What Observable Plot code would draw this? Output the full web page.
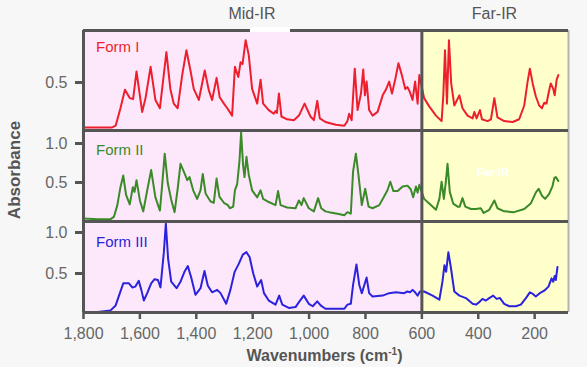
<!DOCTYPE html>
<html><head><meta charset="utf-8">
<script src="https://cdn.jsdelivr.net/npm/d3@7"></script>
<script src="https://cdn.jsdelivr.net/npm/@observablehq/plot@0.6"></script>
<style>
html,body{margin:0;padding:0;background:#f7f7f7;}
#chart{position:relative;width:587px;height:367px;overflow:hidden;font-family:"Liberation Sans",Arial,sans-serif;background:#f7f7f7;}
#chart svg{position:absolute;left:0;}
.lbl{position:absolute;white-space:nowrap;line-height:1;}
</style></head><body><div id="chart"></div>
<script>
// ---- data ----
const regionNames = ["Mid-IR", "Far-IR"];
const regionStart = [1800, 600];
const regionEnd = [600, 80];
const regionFill = ["#fde8fb", "#ffffcc"];
const xTicks = [1800, 1600, 1400, 1200, 1000, 800, 600, 400, 200];
const formNames = ["Form I", "Form II", "Form III"];
const formColors = ["#ee1f2d", "#3a8a28", "#2b22dd"];
const yTicksForm1 = [0.5];
const yTicksForm2 = [0.5, 1.0];
const yTicksForm3 = [0.5, 1.0];

// [wavenumber (cm-1), absorbance]
const form1 = [[1800,0.01],[1750,0.01],[1700,0.01],[1686,0.03],[1669,0.22],[1653,0.42],[1636,0.33],[1624,0.32],[1612,0.62],[1592,0.18],[1580,0.33],[1562,0.67],[1545,0.31],[1529,0.22],[1517,0.54],[1506,0.83],[1492,0.43],[1480,0.27],[1466,0.22],[1450,0.58],[1435,0.85],[1420,0.62],[1409,0.43],[1391,0.31],[1370,0.63],[1356,0.42],[1344,0.31],[1328,0.55],[1317,0.34],[1302,0.27],[1290,0.22],[1273,0.14],[1263,0.67],[1251,0.56],[1243,0.72],[1236,0.70],[1225,0.96],[1214,0.80],[1202,0.43],[1184,0.27],[1172,0.53],[1163,0.27],[1143,0.20],[1125,0.16],[1119,0.19],[1114,0.17],[1107,0.38],[1098,0.13],[1078,0.10],[1054,0.09],[1036,0.14],[1016,0.27],[995,0.13],[983,0.09],[971,0.30],[962,0.11],[942,0.07],[929,0.06],[905,0.04],[875,0.03],[864,0.08],[858,0.16],[849,0.09],[838,0.65],[828,0.20],[816,0.38],[808,0.64],[802,0.36],[796,0.51],[787,0.20],[775,0.14],[757,0.18],[739,0.36],[728,0.42],[716,0.51],[706,0.38],[694,0.54],[683,0.71],[671,0.58],[659,0.43],[651,0.45],[643,0.40],[633,0.31],[624,0.51],[615,0.27],[609,0.58],[592,0.33],[574,0.24],[550,0.14],[530,0.08],[524,0.36],[518,0.85],[511,0.27],[504,0.96],[496,0.49],[485,0.25],[467,0.36],[456,0.22],[438,0.14],[420,0.11],[414,0.18],[406,0.11],[394,0.20],[387,0.10],[367,0.08],[355,0.10],[343,0.33],[332,0.12],[308,0.08],[278,0.07],[255,0.10],[237,0.25],[225,0.51],[217,0.65],[207,0.49],[196,0.35],[184,0.25],[174,0.22],[166,0.28],[158,0.27],[151,0.38],[143,0.49],[134,0.43],[129,0.36],[122,0.53],[116,0.58]];

const form2 = [[1800,0.04],[1750,0.03],[1704,0.03],[1692,0.06],[1680,0.21],[1669,0.44],[1659,0.59],[1649,0.34],[1636,0.22],[1625,0.44],[1619,0.38],[1612,0.53],[1600,0.27],[1588,0.13],[1574,0.40],[1560,0.66],[1545,0.31],[1529,0.14],[1521,0.47],[1512,0.87],[1501,0.49],[1489,0.28],[1477,0.12],[1466,0.42],[1456,0.74],[1442,0.62],[1432,0.53],[1424,0.57],[1411,0.40],[1397,0.29],[1385,0.40],[1377,0.61],[1367,0.36],[1350,0.26],[1338,0.24],[1328,0.55],[1318,0.32],[1302,0.24],[1288,0.21],[1281,0.17],[1269,0.19],[1263,0.40],[1255,0.48],[1247,0.77],[1241,1.14],[1234,0.72],[1229,0.57],[1222,0.83],[1214,0.60],[1202,0.40],[1184,0.31],[1172,0.40],[1163,0.29],[1143,0.25],[1119,0.21],[1110,0.39],[1101,0.21],[1078,0.18],[1048,0.17],[1036,0.27],[1027,0.21],[1019,0.30],[1001,0.17],[983,0.13],[968,0.30],[957,0.17],[942,0.13],[929,0.12],[899,0.10],[875,0.08],[864,0.12],[852,0.10],[844,0.64],[834,0.87],[825,0.60],[813,0.21],[801,0.42],[789,0.19],[775,0.17],[751,0.21],[734,0.32],[722,0.40],[712,0.51],[701,0.39],[686,0.39],[668,0.45],[651,0.46],[639,0.41],[631,0.31],[621,0.45],[615,0.37],[609,0.47],[592,0.29],[574,0.23],[550,0.15],[538,0.29],[530,0.51],[522,0.29],[515,0.51],[509,0.74],[501,0.38],[489,0.23],[473,0.19],[466,0.19],[456,0.30],[446,0.19],[426,0.16],[408,0.16],[391,0.17],[381,0.11],[361,0.15],[343,0.27],[332,0.17],[308,0.13],[273,0.12],[237,0.16],[214,0.23],[196,0.37],[186,0.42],[174,0.33],[163,0.29],[149,0.35],[137,0.45],[130,0.56],[125,0.57],[116,0.52]];

const form3 = [[1800,0.03],[1750,0.03],[1704,0.05],[1686,0.11],[1671,0.26],[1659,0.38],[1639,0.38],[1627,0.33],[1616,0.34],[1604,0.41],[1595,0.30],[1586,0.17],[1574,0.26],[1560,0.38],[1548,0.43],[1536,0.42],[1527,0.33],[1515,0.76],[1508,1.11],[1500,0.68],[1489,0.40],[1470,0.32],[1456,0.40],[1442,0.52],[1430,0.59],[1418,0.45],[1403,0.24],[1385,0.32],[1371,0.53],[1359,0.35],[1344,0.27],[1326,0.30],[1314,0.26],[1294,0.13],[1279,0.30],[1264,0.52],[1249,0.62],[1235,0.73],[1222,0.76],[1211,0.70],[1198,0.50],[1184,0.34],[1170,0.42],[1160,0.26],[1143,0.17],[1119,0.12],[1106,0.23],[1095,0.12],[1072,0.08],[1048,0.09],[1036,0.15],[1019,0.23],[1001,0.13],[987,0.10],[971,0.16],[959,0.11],[942,0.07],[929,0.07],[899,0.07],[875,0.07],[864,0.12],[852,0.13],[844,0.36],[832,0.61],[822,0.36],[813,0.26],[804,0.36],[796,0.45],[787,0.26],[775,0.22],[739,0.23],[716,0.26],[692,0.27],[663,0.26],[651,0.28],[642,0.27],[633,0.30],[624,0.27],[615,0.23],[607,0.28],[592,0.28],[562,0.23],[538,0.18],[527,0.40],[520,0.60],[514,0.52],[506,0.76],[497,0.57],[485,0.28],[467,0.23],[444,0.20],[420,0.13],[408,0.12],[397,0.15],[385,0.19],[373,0.17],[361,0.20],[347,0.23],[335,0.19],[323,0.20],[308,0.13],[290,0.10],[267,0.10],[249,0.12],[231,0.20],[217,0.27],[206,0.25],[196,0.22],[182,0.26],[166,0.29],[151,0.34],[140,0.44],[134,0.40],[129,0.47],[125,0.42],[119,0.58]];

// ---- drawing ----
const FONT = '"Liberation Sans", Arial, sans-serif';
const chart = document.getElementById("chart");

function panel(series, color, yDomain, yTicks, top, height, mTop, mBottom, showX) {
  const [lo, hi] = yDomain;
  const data = series.map(([wn, a]) => ({wn, a}));
  const regions = regionNames.map((name, i) => ({name, x1: regionStart[i], x2: regionEnd[i]}));
  const marks = [
    Plot.rect([regions[0]], {x1: "x1", x2: "x2", y1: () => lo, y2: () => hi, fill: regionFill[0]}),
    Plot.rect([regions[1]], {x1: "x1", x2: "x2", y1: () => lo, y2: () => hi, fill: regionFill[1]}),
    Plot.line(data, {x: "wn", y: "a", stroke: color, strokeWidth: 2, strokeLinejoin: "round"}),
    Plot.ruleX([regionEnd[1]], {stroke: "#b3b3b3", strokeWidth: 2}),
    Plot.ruleX([regionStart[1]], {stroke: "#555", strokeWidth: 3}),
    Plot.ruleX([regionStart[0]], {stroke: "#555", strokeWidth: 3}),
    Plot.ruleY([lo, hi], {stroke: "#555", strokeWidth: 3}),
    Plot.axisY(yTicks, {tickSize: 8, tickPadding: 8, tickFormat: d3.format(".1f"), color: "#666", stroke: "#555", strokeWidth: 3, fontSize: 16, label: null})
  ];
  if (showX) {
    marks.push(Plot.axisX(xTicks, {tickSize: 7, tickPadding: 8, tickFormat: d3.format(","), color: "#666", stroke: "#555", strokeWidth: 2.5, fontSize: 16, label: null}));
  }
  const svg = Plot.plot({
    width: 587, height, marginLeft: 83, marginRight: 19, marginTop: mTop, marginBottom: mBottom,
    x: {domain: [regionStart[0], regionEnd[1]], axis: showX ? undefined : null, label: null},
    y: {domain: yDomain, label: null},
    style: {background: "transparent", fontFamily: FONT, fontSize: "16px", overflow: "visible"},
    marks
  });
  svg.style.top = top + "px";
  chart.appendChild(svg);
}

panel(form1, formColors[0], [-0.022, 1.065], yTicksForm1, 0, 130, 30, 0, false);
panel(form2, formColors[1], [0, 1.167], yTicksForm2, 130, 91, 0, 0, false);
panel(form3, formColors[2], [0.024, 1.134], yTicksForm3, 221, 146, 0, 55, true);

function label(text, css, html) {
  const d = document.createElement("div");
  d.className = "lbl";
  if (html) d.innerHTML = text; else d.textContent = text;
  Object.assign(d.style, css);
  chart.appendChild(d);
  return d;
}
// white gap in top border behind the Mid-IR title
const gap = document.createElement("div");
Object.assign(gap.style, {position: "absolute", left: "250px", top: "27px", width: "40px", height: "5px", background: "#fff"});
chart.appendChild(gap);

label(regionNames[0], {left: "252px", top: "13.5px", transform: "translate(-50%,-50%)", fontSize: "16px", color: "#555"});
label(regionNames[1], {left: "494.5px", top: "13.5px", transform: "translate(-50%,-50%)", fontSize: "16px", color: "#555"});
label(regionNames[1], {left: "493px", top: "172px", transform: "translate(-50%,-50%)", fontSize: "11px", fontWeight: "bold", color: "#fff"});
label(formNames[0], {left: "96px", top: "46px", transform: "translateY(-50%)", fontSize: "15px", color: formColors[0]});
label(formNames[1], {left: "96px", top: "149px", transform: "translateY(-50%)", fontSize: "15px", color: formColors[1]});
label(formNames[2], {left: "96px", top: "241px", transform: "translateY(-50%)", fontSize: "15px", color: formColors[2]});
label("Absorbance", {left: "14px", top: "169.5px", transform: "translate(-50%,-50%) rotate(-90deg)", fontSize: "17px", fontWeight: "bold", color: "#555"});
label('Wavenumbers (cm<sup style="font-size:10px;vertical-align:6px;line-height:0">-1</sup>)', {left: "324.5px", top: "356px", transform: "translate(-50%,-50%)", fontSize: "16px", fontWeight: "bold", color: "#555"}, true);
</script>
</body></html>
